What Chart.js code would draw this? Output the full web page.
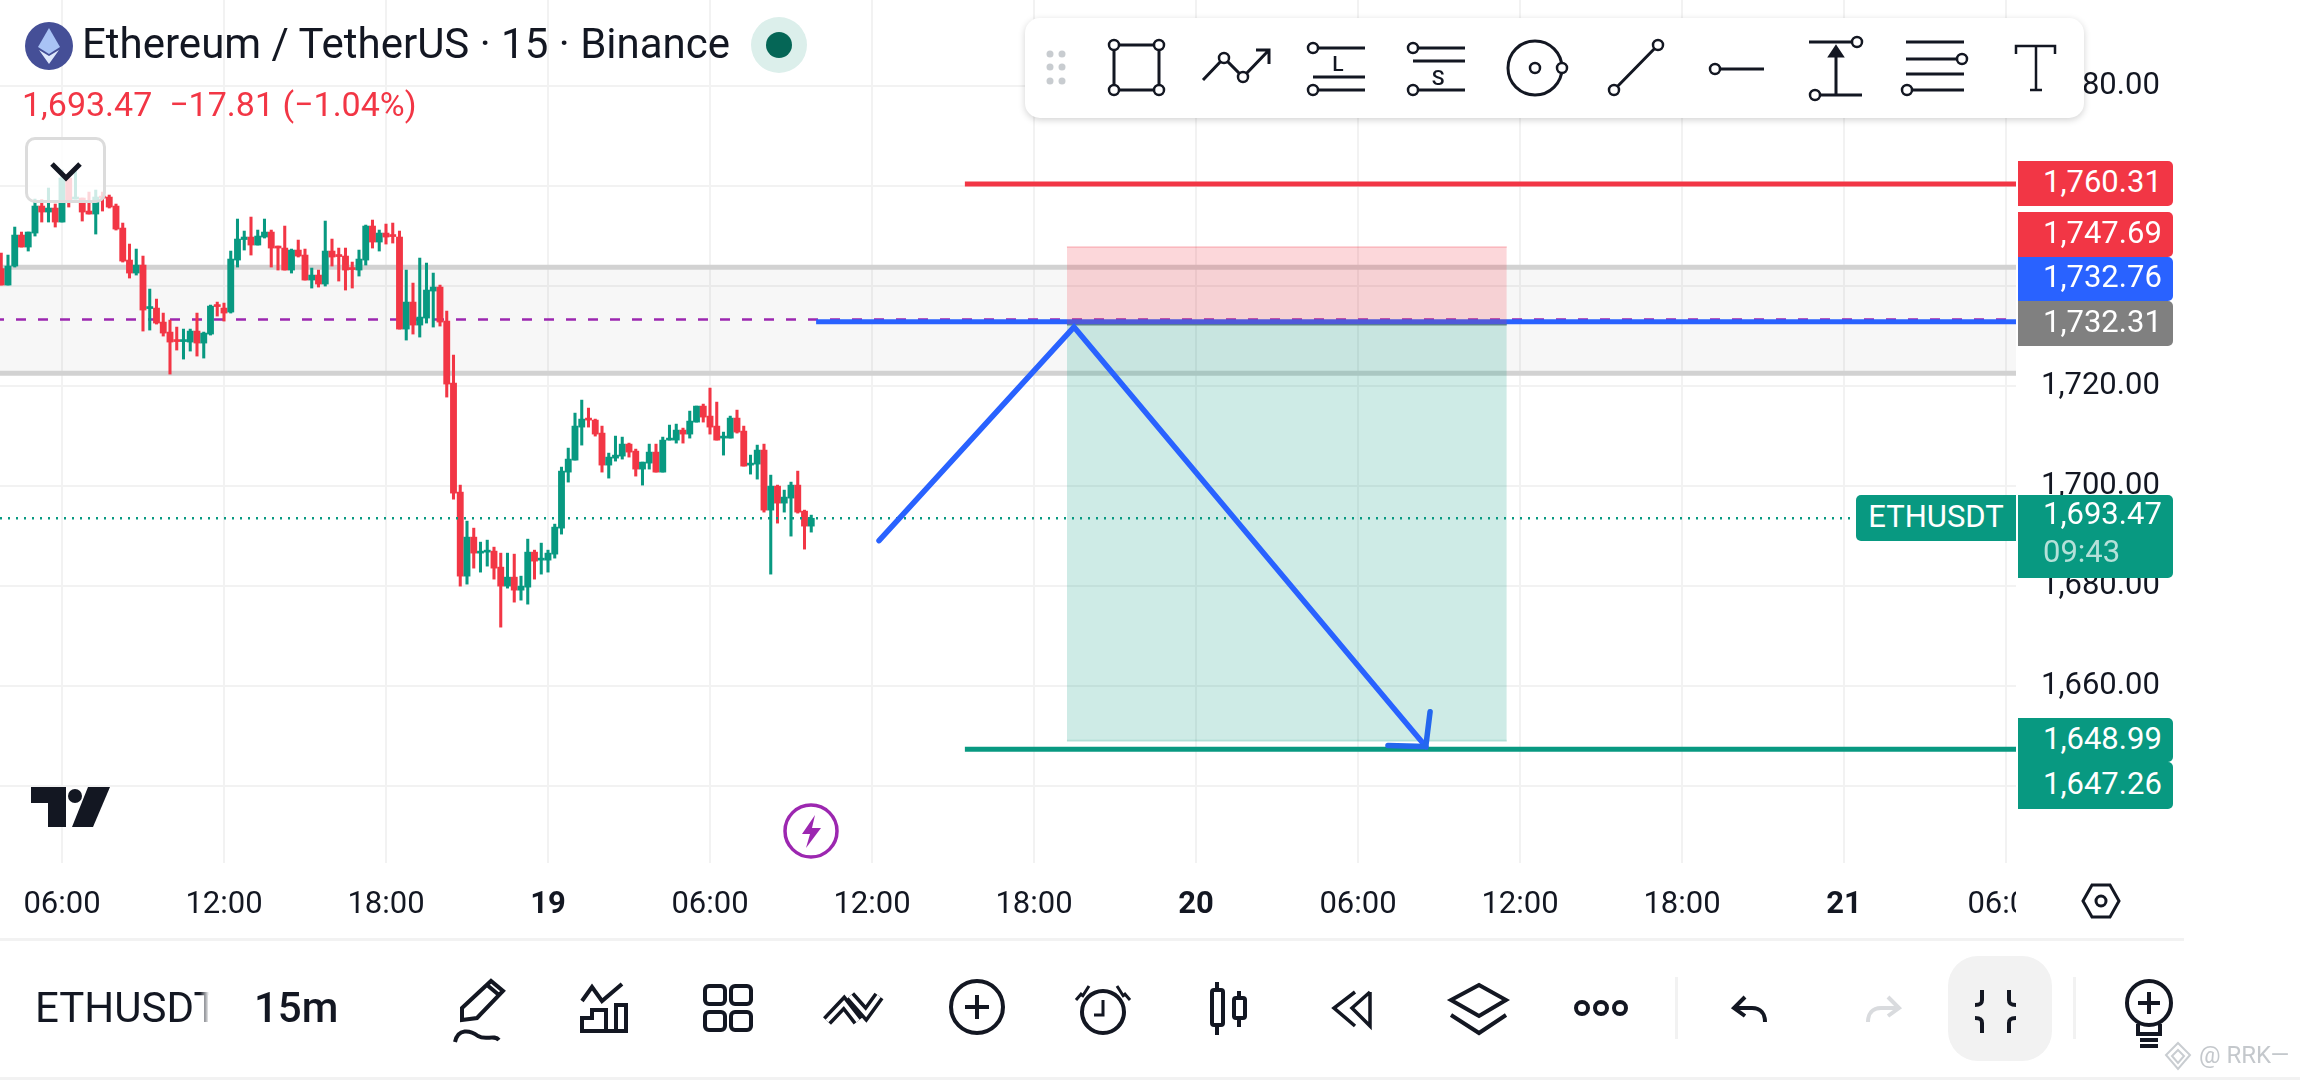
<!DOCTYPE html>
<html lang="en">

<head>
    <meta charset="UTF-8">
    <title>Ethereum / TetherUS 15</title>
    <script src="https://cdn.jsdelivr.net/npm/chart.js@4/dist/chart.umd.min.js"></script>
    <style>
        html, body {
            margin: 0;
            padding: 0;
            background: #fff;
            width: 2300px;
            height: 1080px;
            overflow: hidden;
            font-family: Roboto, sans-serif;
            color: #131722;
        }

        #chart, #icons { position: absolute; left: 0; top: 0; }
        .abs { position: absolute; white-space: nowrap; }

        .tag {
            position: absolute;
            left: 2018px;
            width: 155px;
            box-sizing: border-box;
            padding-left: 25px;
            font-size: 31px;
            color: #fff;
            border-radius: 0 5px 5px 0;
        }

        .red { background: #f23645; }
        .blue { background: #2962ff; }
        .gray { background: #808080; }
        .green { background: #089981; }

        #tools {
            position: absolute;
            left: 1025px;
            top: 18px;
            width: 1059px;
            height: 100px;
            background: #fff;
            border-radius: 15px;
            box-shadow: 0 2px 7px rgba(0, 0, 0, 0.18);
        }

        #chevronBox {
            position: absolute;
            left: 25px;
            top: 137px;
            width: 81px;
            height: 66px;
            box-sizing: border-box;
            border: 3px solid #dcdcdc;
            border-radius: 10px;
            background: rgba(255, 255, 255, 0.8);
        }

        #xClip { position: absolute; left: 2016px; top: 868px; width: 60px; height: 60px; background: #fff; }
        #closeBtn { position: absolute; left: 1948px; top: 956px; width: 104px; height: 105px; background: #f2f2f2; border-radius: 30px; }
        .rule { position: absolute; background: #f2f2f2; }
        #symbol {
            -webkit-mask-image: linear-gradient(to right, #000 165px, transparent 174px);
            mask-image: linear-gradient(to right, #000 165px, transparent 174px);
        }
    </style>
</head>

<body>
    <canvas id="chart" width="2300" height="1080"></canvas>

    <div id="chevronBox"></div>

    <div class="abs" id="title" style="left:82px;top:20px;font-size:42px;line-height:48px;color:#131722">Ethereum / TetherUS · 15 · Binance</div>
    <div class="abs" style="left:22px;top:84px;font-size:34px;line-height:40px;color:#f23645">1,693.47&nbsp; −17.81 (−1.04%)</div>

    <div class="tag red" style="top:161px;height:45px;line-height:42px">1,760.31</div>
    <div class="tag red" style="top:212px;height:45px;line-height:42px">1,747.69</div>
    <div class="tag blue" style="top:257px;height:44px;line-height:40px">1,732.76</div>
    <div class="tag gray" style="top:301px;height:45px;line-height:42px">1,732.31</div>
    <div class="abs green" style="left:1856px;top:495px;width:160px;height:46px;line-height:44px;font-size:31px;color:#fff;text-align:center;border-radius:5px 0 0 5px">ETHUSDT</div>
    <div class="tag green" style="top:495px;height:83px;line-height:38px">1,693.47<br><span style="color:rgba(255,255,255,0.7)">09:43</span></div>
    <div class="tag green" style="top:718px;height:44px;line-height:42px">1,648.99</div>
    <div class="tag green" style="top:762px;height:47px;line-height:44px">1,647.26</div>

    <div id="tools"></div>
    <div id="xClip"></div>

    <div class="rule" style="left:0;top:938px;width:2184px;height:3px"></div>
    <div class="rule" style="left:0;top:1077px;width:2300px;height:3px"></div>
    <div class="rule" style="left:1675px;top:977px;width:3px;height:62px"></div>
    <div class="rule" style="left:2073px;top:977px;width:3px;height:62px"></div>
    <div id="closeBtn"></div>

    <div class="abs" id="symbol" style="left:35px;top:984px;width:174px;overflow:hidden;font-size:42px;line-height:48px;color:#131722">ETHUSDT</div>
    <div class="abs" style="left:254px;top:984px;font-size:42px;line-height:48px;font-weight:500;color:#131722">15m</div>
    <div class="abs" style="left:2199px;top:1041px;font-size:24px;line-height:28px;color:#c4c8cc">@ RRK—</div>

    <svg id="icons" width="2300" height="1080" viewBox="0 0 2300 1080" fill="none" stroke="#131722" stroke-width="3">
        <!-- header badges -->
        <circle cx="49" cy="46" r="24" fill="#454f97" stroke="none" />
        <path d="M49 28 L60 47 L49 54 L38 47 Z" fill="#a9c3f5" stroke="none" />
        <path d="M39 50 L49 56 L59 50 L49 64 Z" fill="#dfe8fb" stroke="none" />
        <circle cx="779" cy="45" r="28" fill="#dcefeb" stroke="none" />
        <circle cx="779" cy="45" r="13" fill="#056656" stroke="none" />
        <path d="M52 164 L66 178 L80 164" stroke-width="5" stroke="#131722" />

        <!-- tv logo and flash -->
        <path d="M31 787 H66 V827 H48 V803 H31 Z" fill="#131722" stroke="none" />
        <circle cx="75" cy="796" r="7" fill="#131722" stroke="none" />
        <path d="M88 787 H110 L93 827 H72 Z" fill="#131722" stroke="none" />
        <circle cx="811" cy="831" r="26" stroke="#9c27b0" stroke-width="3.5" />
        <path d="M815 815 L802 834 H810 L806 848 L821 828 H812 Z" fill="#9c27b0" stroke="none" />

        <!-- hexagon on the time axis -->
        <path d="M2083 901 L2092 885 H2110 L2119 901 L2110 917 H2092 Z" stroke-width="3" />
        <circle cx="2101" cy="901" r="5" stroke-width="3" />

        <!-- top drawing tools -->
        <g fill="#c8ccd0" stroke="none">
            <circle cx="1050" cy="54" r="3.5" /><circle cx="1062" cy="54" r="3.5" />
            <circle cx="1050" cy="67" r="3.5" /><circle cx="1062" cy="67" r="3.5" />
            <circle cx="1050" cy="81" r="3.5" /><circle cx="1062" cy="81" r="3.5" />
        </g>
        <g>
            <path d="M1114 45 H1159 V90 H1114 Z" />
            <path d="M1203 80 L1224 58 L1243 77 L1269 50 M1256 50 H1269 V64" />
            <path d="M1313 48 H1365 M1313 77 H1365 M1313 90 H1365" />
            <path d="M1413 48 H1465 M1413 61 H1465 M1413 90 H1465" />
            <circle cx="1535" cy="68" r="27" />
            <path d="M1614 90 L1658 45 M1715 69 H1764" />
            <path d="M1809 42 H1857 M1815 95 H1862 M1836 95 V52" />
            <path d="M1836 47 L1842 56 H1830 Z" fill="#131722" />
            <path d="M1906 42 H1964 M1906 59 H1962 M1906 74 H1964 M1907 90 H1964" />
            <path d="M2016 54 V46 H2055 V54 M2036 46 V90 M2030 90 H2042" stroke-width="2.5" />
            <g fill="#fff" stroke-width="2.5">
                <circle cx="1114" cy="45" r="5" /><circle cx="1159" cy="45" r="5" />
                <circle cx="1114" cy="90" r="5" /><circle cx="1159" cy="90" r="5" />
                <circle cx="1224" cy="58" r="5" /><circle cx="1243" cy="77" r="5" />
                <circle cx="1313" cy="48" r="5" /><circle cx="1313" cy="90" r="5" />
                <circle cx="1413" cy="48" r="5" /><circle cx="1413" cy="90" r="5" />
                <circle cx="1535" cy="68" r="5" /><circle cx="1562" cy="68" r="5" />
                <circle cx="1614" cy="90" r="5" /><circle cx="1658" cy="45" r="5" />
                <circle cx="1715" cy="69" r="5" />
                <circle cx="1857" cy="42" r="5" /><circle cx="1815" cy="95" r="5" />
                <circle cx="1962" cy="59" r="5" /><circle cx="1907" cy="90" r="5" />
            </g>
        </g>
        <text x="1338" y="71" font-family="Roboto" font-size="21" font-weight="500" text-anchor="middle" fill="#131722" stroke="none">L</text>
        <text x="1438" y="85" font-family="Roboto" font-size="21" font-weight="500" text-anchor="middle" fill="#131722" stroke="none">S</text>

        <!-- bottom toolbar -->
        <g stroke-width="4">
            <path d="M462 1008 L491 981 L503 991 L477 1018 L462 1020 Z M487 985 L499 995" />
            <path d="M455 1042 C458 1028 470 1030 478 1036 C486 1041 494 1034 499 1040" />
            <path d="M582 1001 L592 987 L602 1001 L622 984" />
            <path d="M582 1030 V1018 H592 V1010 H606 V1018 H606 M606 1030 V1012 M616 1030 V1005 H626 V1030 M580 1031 H628" />
            <rect x="705" y="986" width="20" height="18" rx="4" /><rect x="731" y="986" width="20" height="18" rx="4" />
            <rect x="705" y="1012" width="20" height="18" rx="4" /><rect x="731" y="1012" width="20" height="18" rx="4" />
            <path d="M827 1021 L844 1003 L858 1021" stroke-width="11" />
            <path d="M827 1021 L844 1003 L858 1021" stroke-width="4" stroke="#fff" />
            <path d="M850 996 L866 1014 L879 996" stroke-width="11" />
            <path d="M850 996 L866 1014 L879 996" stroke-width="4" stroke="#fff" />
            <circle cx="977" cy="1007" r="26" />
            <path d="M977 995 V1019 M965 1007 H989" />
            <circle cx="1103" cy="1012" r="21" />
            <path d="M1103 1000 V1015 H1094 M1082 993 L1076 1000 M1124 993 L1130 1000 M1089 986 L1082 997 M1117 986 L1124 997" stroke-width="3" />
            <path d="M1217 982 V990 M1217 1025 V1035 M1239 991 V998 M1239 1018 V1027" />
            <rect x="1212" y="990" width="11" height="35" rx="2" />
            <rect x="1234" y="998" width="11" height="20" rx="2" />
            <path d="M1355 992 L1334 1008 L1355 1026 M1370 992 L1352 1008 L1370 1026 V992" stroke-width="3.5" />
            <path d="M1479 985 L1506 1000 L1479 1016 L1451 1000 Z M1451 1015 L1479 1033 L1506 1015" />
            <circle cx="1582" cy="1008" r="6" /><circle cx="1601" cy="1008" r="6" /><circle cx="1620" cy="1008" r="6" />
            <path d="M1745 997 L1734 1008 L1745 1016 M1734 1008 H1752 C1761 1008 1765 1014 1765 1022" />
            <path d="M1888 997 L1899 1008 L1888 1016 M1899 1008 H1881 C1872 1008 1868 1014 1868 1022" stroke="#d9dbde" />
            <path d="M1982 990 V1000 C1982 1004 1980 1005 1975 1005 M2009 990 V1000 C2009 1004 2011 1005 2016 1005" />
            <path d="M1975 1018 C1980 1018 1982 1019 1982 1023 V1033 M2016 1018 C2011 1018 2009 1019 2009 1023 V1033" />
            <circle cx="2149" cy="1003" r="22" />
            <path d="M2149 992 V1014 M2138 1003 H2160" />
            <path d="M2138 1024 V1034 H2160 V1024 M2140 1040 H2158 M2140 1046 H2158" />
        </g>

        <!-- watermark -->
        <path d="M2178 1043 L2190 1055 L2178 1069 L2166 1055 Z M2178 1050 L2184 1056 L2178 1063 L2172 1056 Z" stroke="#c9cdd1" stroke-width="2" />
    </svg>

    <script>
        // hours counted from 18th 00:00, 15 minute bars
        const firstBarHour = 3.75;
        const barHours = 0.25;

        const opens = [
            1743.4, 1740.1, 1743.9, 1750.1, 1747.7, 1750.5, 1755.9, 1754.7,
            1755.5, 1752.7, 1761.5, 1757.3, 1757.5, 1754.9, 1754.3, 1757.9,
            1757.7, 1755.9, 1751.5, 1745.1, 1742.5, 1744.1, 1735.4, 1735.5,
            1732.7, 1730.7, 1729.1, 1728.8, 1728.7, 1730.9, 1728.5, 1730.3,
            1736.1, 1735.5, 1734.7, 1745.1, 1749.2, 1749.7, 1748.1, 1749.7,
            1750.7, 1747.9, 1747.5, 1743.1, 1747.1, 1746.1, 1741.1, 1742.1,
            1740.3, 1746.9, 1746.1, 1745.9, 1743.5, 1743.1, 1745.1, 1751.9,
            1748.7, 1750.5, 1750.1, 1749.7, 1731.3, 1736.7, 1732.1, 1733.5,
            1738.9, 1739.7, 1732.9, 1720.5, 1698.7, 1681.9, 1689.7, 1686.5,
            1686.7, 1686.9, 1683.7, 1679.9, 1681.7, 1679.1, 1679.7, 1686.7,
            1685.1, 1685.1, 1686.3, 1691.5, 1702.7, 1705.1, 1711.7, 1713.5,
            1713.1, 1710.5, 1704.1, 1705.5, 1705.9, 1708.3, 1706.9, 1703.3,
            1704.5, 1706.7, 1702.7, 1709.1, 1709.1, 1711.1, 1710.3, 1712.7,
            1715.9, 1713.9, 1711.9, 1709.5, 1709.5, 1713.5, 1710.9, 1704.1,
            1704.3, 1707.1, 1695.1, 1699.9, 1696.5, 1697.5, 1700.1, 1694.9,
            1691.9
        ];
        const highs = [
            1746.5, 1746.1, 1751.7, 1750.7, 1750.7, 1757.3, 1757.2, 1759.5,
            1756.3, 1763.1, 1761.5, 1763.1, 1757.5, 1758.7, 1759.1, 1758.7,
            1758.1, 1756.3, 1752.5, 1748.3, 1747.3, 1745.9, 1739.3, 1737.3,
            1734.5, 1733.1, 1731.7, 1731.3, 1731.3, 1734.5, 1730.7, 1736.1,
            1736.7, 1736.5, 1746.9, 1753.3, 1750.9, 1753.7, 1751.1, 1753.3,
            1751.1, 1747.9, 1751.9, 1747.3, 1749.1, 1747.3, 1743.5, 1743.1,
            1752.9, 1749.3, 1747.5, 1747.5, 1744.7, 1747.1, 1752.1, 1753.1,
            1751.1, 1752.3, 1752.5, 1750.9, 1743.1, 1740.5, 1745.5, 1744.5,
            1742.5, 1740.1, 1734.9, 1726.1, 1700.1, 1692.9, 1691.5, 1688.7,
            1689.1, 1687.7, 1686.5, 1686.5, 1686.3, 1681.9, 1689.3, 1687.1,
            1688.5, 1687.1, 1692.3, 1703.7, 1707.5, 1714.5, 1717.1, 1715.5,
            1713.3, 1711.9, 1706.5, 1709.9, 1709.7, 1708.5, 1707.3, 1704.7,
            1708.3, 1708.3, 1709.7, 1712.1, 1712.3, 1711.5, 1714.9, 1715.9,
            1716.3, 1719.5, 1716.7, 1710.7, 1713.9, 1715.1, 1711.9, 1706.1,
            1708.1, 1708.3, 1702.1, 1700.1, 1699.1, 1700.7, 1702.9, 1695.1,
            1694.1
        ];
        const lows = [
            1740.1, 1740.1, 1743.7, 1747.7, 1746.9, 1749.9, 1752.7, 1752.7,
            1751.7, 1752.7, 1755.7, 1757.3, 1752.9, 1754.3, 1750.3, 1754.9,
            1755.5, 1751.1, 1744.7, 1741.5, 1742.1, 1730.9, 1731.1, 1732.3,
            1729.9, 1722.3, 1727.1, 1725.3, 1726.9, 1725.9, 1725.5, 1730.1,
            1733.9, 1732.9, 1734.5, 1743.7, 1747.1, 1746.1, 1748.1, 1749.5,
            1743.7, 1743.1, 1743.1, 1742.5, 1745.7, 1741.1, 1739.5, 1739.7,
            1739.9, 1743.9, 1740.9, 1739.1, 1739.5, 1741.9, 1744.1, 1747.5,
            1746.9, 1748.3, 1748.5, 1731.3, 1729.1, 1730.3, 1729.7, 1732.5,
            1731.7, 1731.9, 1717.7, 1697.3, 1679.9, 1680.3, 1683.5, 1682.7,
            1683.9, 1681.3, 1671.7, 1679.5, 1676.7, 1677.1, 1676.3, 1681.3,
            1682.3, 1682.7, 1685.5, 1690.3, 1700.7, 1705.1, 1708.1, 1711.7,
            1709.9, 1702.7, 1701.5, 1704.9, 1705.3, 1705.7, 1701.9, 1700.1,
            1703.3, 1702.7, 1702.7, 1709.1, 1708.5, 1708.5, 1709.5, 1712.7,
            1712.7, 1710.3, 1709.1, 1706.1, 1709.5, 1710.5, 1703.9, 1702.3,
            1701.3, 1694.7, 1682.3, 1692.5, 1694.7, 1689.9, 1694.5, 1687.3,
            1690.7
        ];
        const closes = [
            1740.1, 1743.9, 1750.1, 1747.7, 1750.7, 1755.9, 1754.7, 1755.5,
            1752.7, 1761.5, 1757.1, 1757.6, 1754.7, 1754.3, 1757.7, 1757.5,
            1755.7, 1751.3, 1744.9, 1742.5, 1744.1, 1735.1, 1735.7, 1732.5,
            1730.5, 1728.7, 1728.8, 1729.1, 1730.9, 1728.5, 1730.5, 1735.9,
            1735.8, 1734.5, 1745.3, 1749.3, 1749.7, 1748.1, 1749.9, 1750.7,
            1747.5, 1747.5, 1743.1, 1747.1, 1745.9, 1741.1, 1742.1, 1740.3,
            1746.9, 1745.7, 1745.8, 1743.1, 1743.2, 1745.3, 1751.9, 1748.7,
            1750.5, 1749.7, 1749.8, 1731.3, 1736.7, 1732.1, 1733.7, 1739.1,
            1739.7, 1732.7, 1720.3, 1698.5, 1681.9, 1689.7, 1686.5, 1686.9,
            1687.1, 1683.5, 1679.9, 1681.7, 1679.1, 1679.9, 1686.7, 1684.9,
            1685.5, 1686.5, 1691.7, 1702.9, 1705.3, 1711.9, 1713.3, 1713.1,
            1710.3, 1704.1, 1705.7, 1706.1, 1708.3, 1706.7, 1703.3, 1704.7,
            1706.7, 1702.7, 1709.1, 1709.5, 1711.1, 1710.3, 1712.9, 1715.9,
            1713.7, 1711.7, 1709.1, 1709.9, 1713.5, 1710.7, 1703.9, 1704.5,
            1707.1, 1695.1, 1699.9, 1696.5, 1697.7, 1700.1, 1694.7, 1691.9,
            1693.47
        ];

        const priceTicks = [1640, 1660, 1680, 1700, 1720, 1740, 1760, 1780];
        const timeTicks = [6, 12, 18, 24, 30, 36, 42, 48, 54, 60, 66, 72, 78];
        const timeLabels = ['06:00', '12:00', '18:00', '19', '06:00', '12:00', '18:00', '20', '06:00', '12:00', '18:00', '21', '06:00'];

        const lastPrice = 1693.47;
        const stopPrice = 1760.31;
        const shortStop = 1747.69;
        const entryLine = 1732.76;
        const entryPrice = 1732.31;
        const purpleLevel = 1733.2;
        const shortTarget = 1648.99;
        const targetPrice = 1647.26;
        const bandTop = 1743.65;
        const bandBottom = 1722.46;

        const arrowHours = [36.26, 43.48, 56.51];
        const arrowPrices = [1689.0, 1731.71, 1647.82];
        const headHours = [56.67, 56.51, 55.11];
        const headPrices = [1654.8, 1647.82, 1648.04];

        const xMin = 3.704;
        const xMax = 78.37;
        const yMin = 1624.54;
        const yMax = 1797.1;
        const levelStart = 39.44;
        const blueStart = 33.93;
        const dottedEnd = 72.4;
        const boxStart = 43.22;
        const boxEnd = 59.51;

        const green = '#089981';
        const red = '#f23645';
        const blue = '#2962ff';

        const barX = opens.map((_, i) => firstBarHour + i * barHours);
        const barColors = opens.map((o, i) => closes[i] >= o ? green : red);

        // helper for a horizontal drawing between two hours
        function level(price, from, to, color, width, extra) {
            return Object.assign({
                type: 'line',
                data: [{ x: from, y: price }, { x: to, y: price }],
                borderColor: color,
                borderWidth: width,
                pointRadius: 0,
                fill: false
            }, extra || {});
        }

        function path(hours, prices, color) {
            return {
                type: 'line',
                data: hours.map((h, i) => ({ x: h, y: prices[i] })),
                borderColor: color,
                borderWidth: 5.5,
                borderCapStyle: 'round',
                borderJoinStyle: 'miter',
                pointRadius: 0,
                fill: false
            };
        }

        // first dataset ends up on top
        const datasets = [
            path(headHours, headPrices, '#2467ee'),
            path(arrowHours, arrowPrices, blue),
            level(stopPrice, levelStart, xMax, red, 5),
            level(targetPrice, levelStart, xMax, green, 5),
            level(lastPrice, xMin, dottedEnd, green, 2.5, { borderDash: [2, 6] }),
            level(shortStop, boxStart, boxEnd, 'rgba(242,54,69,0.2)', 2, {
                fill: { value: entryPrice },
                backgroundColor: 'rgba(242,54,69,0.2)'
            }),
            level(shortTarget, boxStart, boxEnd, 'rgba(8,153,129,0.2)', 2, {
                fill: { value: entryPrice },
                backgroundColor: 'rgba(8,153,129,0.2)'
            }),
            level(entryLine, blueStart, xMax, blue, 5),
            level(entryPrice, boxStart, boxEnd, '#808080', 3),
            {
                type: 'bar',
                data: barX.map((h, i) => ({ x: h, y: [opens[i], closes[i]] })),
                backgroundColor: barColors,
                barThickness: 6.2,
                grouped: false,
                minBarLength: 2
            },
            {
                type: 'bar',
                data: barX.map((h, i) => ({ x: h, y: [lows[i], highs[i]] })),
                backgroundColor: barColors,
                barThickness: 2.4,
                grouped: false
            },
            level(purpleLevel, xMin, xMax, '#9c27b0', 2.5, { borderDash: [10, 12], borderDashOffset: 6 }),
            level(bandTop, xMin, xMax, '#d2d2d2', 5),
            level(bandBottom, xMin, xMax, '#d2d2d2', 5, {}),
            level(bandTop, xMin, xMax, 'rgba(0,0,0,0)', 0, {
                fill: { value: bandBottom },
                backgroundColor: 'rgba(0,0,0,0.03)'
            })
        ];

        new Chart(document.getElementById('chart'), {
            type: 'bar',
            data: { datasets: datasets },
            options: {
                responsive: false,
                animation: false,
                devicePixelRatio: 1,
                layout: { padding: 0 },
                plugins: { legend: { display: false }, tooltip: { enabled: false } },
                scales: {
                    x: {
                        type: 'linear',
                        offset: false,
                        min: xMin,
                        max: xMax,
                        grid: { color: '#f2f2f2', lineWidth: 2, drawTicks: false, offset: false },
                        border: { display: false },
                        afterBuildTicks: (scale) => { scale.ticks = timeTicks.map(v => ({ value: v })); },
                        afterFit: (scale) => {
                            scale.height = 217;
                            scale.paddingLeft = 0;
                            scale.paddingRight = 0;
                        },
                        ticks: {
                            autoSkip: false,
                            maxRotation: 0,
                            padding: 24,
                            color: '#131722',
                            font: (ctx) => ({
                                family: 'Roboto',
                                size: 31,
                                weight: ctx.tick && ctx.tick.value % 24 === 0 ? '700' : '400'
                            }),
                            callback: (value) => timeLabels[timeTicks.indexOf(value)]
                        }
                    },
                    y: {
                        position: 'right',
                        min: yMin,
                        max: yMax,
                        grid: { color: '#f2f2f2', lineWidth: 2, drawTicks: false },
                        border: { display: false },
                        afterBuildTicks: (scale) => { scale.ticks = priceTicks.map(v => ({ value: v })); },
                        afterFit: (scale) => {
                            scale.width = 284;
                            scale.paddingTop = 0;
                            scale.paddingBottom = 0;
                        },
                        ticks: {
                            padding: 25,
                            labelOffset: 1,
                            color: '#131722',
                            font: { family: 'Roboto', size: 31 },
                            callback: (value) => value.toLocaleString('en-US', { minimumFractionDigits: 2 })
                        }
                    }
                }
            }
        });
    </script>
</body>

</html>
